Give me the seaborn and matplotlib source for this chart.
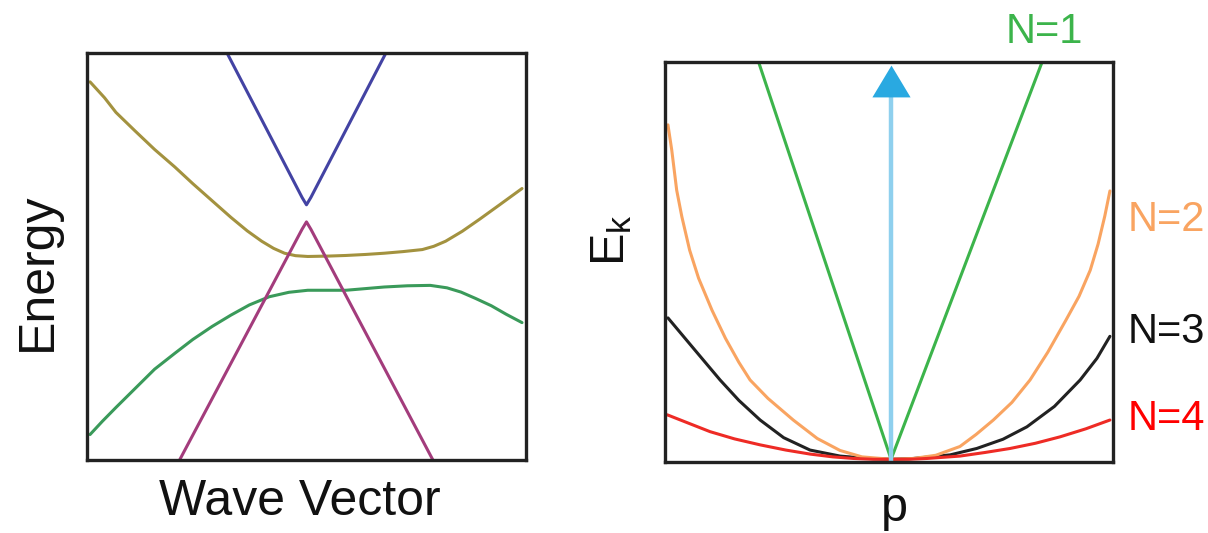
import numpy as np
import pandas as pd
import matplotlib
matplotlib.use("Agg")
import matplotlib.pyplot as plt
import seaborn as sns

# ---------------- data ----------------
# Left panel: band diagram (x and y in normalised axis units)
blue_x = [0.319, 0.49, 0.50, 0.51, 0.681]
blue_y = [1.0, 0.645, 0.627, 0.645, 1.0]

magenta_x = [0.211, 0.49, 0.50, 0.51, 0.788]
magenta_y = [0.0, 0.567, 0.585, 0.567, 0.0]

olive_x = [0.007, 0.040, 0.066, 0.110, 0.154, 0.200, 0.241, 0.285, 0.328,
           0.365, 0.398, 0.425, 0.450, 0.475, 0.503, 0.550, 0.590, 0.635,
           0.677, 0.720, 0.764, 0.790, 0.817, 0.855, 0.895, 0.940, 0.991]
olive_y = [0.929, 0.890, 0.854, 0.808, 0.763, 0.720, 0.679, 0.637, 0.596,
           0.563, 0.5375, 0.520, 0.508, 0.502, 0.500, 0.501, 0.5025, 0.505,
           0.508, 0.512, 0.517, 0.525, 0.5375, 0.562, 0.592, 0.627, 0.667]

green_x = [0.007, 0.035, 0.066, 0.110, 0.154, 0.200, 0.241, 0.285, 0.328,
           0.370, 0.415, 0.460, 0.503, 0.590, 0.677, 0.730, 0.782, 0.820,
           0.852, 0.885, 0.921, 0.955, 0.991]
green_y = [0.0625, 0.095, 0.129, 0.176, 0.223, 0.262, 0.296, 0.328, 0.356,
           0.381, 0.401, 0.412, 0.417, 0.417, 0.425, 0.428, 0.429, 0.423,
           0.4125, 0.397, 0.379, 0.358, 0.3375]

# Right panel: E_k versus p
n1_p = [-0.592, 0.0, 0.675]
n1_E = [1.0, 0.008, 1.0]

n2_p = [-0.997, -0.980, -0.958, -0.935, -0.900, -0.860, -0.800, -0.740,
        -0.680, -0.630, -0.550, -0.437, -0.330, -0.228, -0.130, 0.0,
        0.100, 0.200, 0.308, 0.380, 0.457, 0.540, 0.621, 0.700, 0.781,
        0.840, 0.890, 0.925, 0.955, 0.978]
n2_E = [0.843, 0.780, 0.680, 0.614, 0.530, 0.460, 0.380, 0.310,
        0.250, 0.206, 0.160, 0.106, 0.060, 0.030, 0.014, 0.008,
        0.010, 0.018, 0.040, 0.070, 0.106, 0.150, 0.206, 0.275, 0.355,
        0.415, 0.480, 0.545, 0.615, 0.678]

n3_p = [-0.997, -0.880, -0.764, -0.680, -0.585, -0.480, -0.362, -0.228,
        -0.100, 0.0, 0.100, 0.264, 0.383, 0.500, 0.607, 0.730, 0.845,
        0.920, 0.978]
n3_E = [0.361, 0.283, 0.206, 0.155, 0.106, 0.062, 0.031, 0.016,
        0.010, 0.008, 0.010, 0.019, 0.035, 0.058, 0.089, 0.140, 0.206,
        0.260, 0.315]

n4_p = [-1.0, -0.900, -0.809, -0.700, -0.585, -0.470, -0.362, -0.260,
        -0.168, -0.080, 0.0, 0.080, 0.160, 0.308, 0.420, 0.532, 0.645,
        0.755, 0.870, 0.978]
n4_E = [0.119, 0.097, 0.077, 0.059, 0.044, 0.031, 0.021, 0.014,
        0.010, 0.008, 0.008, 0.008, 0.010, 0.016, 0.025, 0.035, 0.048,
        0.064, 0.084, 0.106]

arrow_p = [0.0, 0.0]
arrow_E = [0.0, 0.913]
arrow_tip_E = 0.953

labels = ["N=1", "N=2", "N=3", "N=4"]

# ---------------- styling ----------------
sns.set_theme(style="white")
plt.rcParams["font.family"] = ["Liberation Sans", "DejaVu Sans"]
plt.rcParams["mathtext.fontset"] = "custom"
plt.rcParams["mathtext.rm"] = "Liberation Sans"
plt.rcParams["mathtext.it"] = "Liberation Sans"

C_BLUE = "#4343a3"
C_MAG = "#a33c7c"
C_OLIVE = "#a3923f"
C_GREEN_L = "#3a9a5a"

C_N1 = "#3cb44b"
C_N2 = "#f9a461"
C_N3 = "#222222"
C_N4 = "#ee2b25"
C_ARROW = "#8fd0ee"
C_HEAD = "#29a9e1"

fig = plt.figure(figsize=(12.08, 5.33), dpi=100)
axL = fig.add_axes([0.072, 0.137, 0.3634, 0.7636])
axR = fig.add_axes([0.5509, 0.1323, 0.3705, 0.7514])

LW = 2.2


def line(ax, x, y, color, lw=LW, z=2):
    sns.lineplot(x=x, y=y, ax=ax, color=color, lw=lw, sort=False,
                 estimator=None, zorder=z)
    ax.lines[-1].set_solid_joinstyle("round")


# left panel
line(axL, green_x, green_y, C_GREEN_L)
line(axL, olive_x, olive_y, C_OLIVE)
line(axL, magenta_x, magenta_y, C_MAG)
line(axL, blue_x, blue_y, C_BLUE)
axL.set_xlim(0, 1)
axL.set_ylim(0, 1)

# right panel
line(axR, n3_p, n3_E, C_N3, z=2)
line(axR, n2_p, n2_E, C_N2, z=2.1)
line(axR, n4_p, n4_E, C_N4, z=2.2)
line(axR, n1_p, n1_E, C_N1, z=2.3)
line(axR, arrow_p, arrow_E, C_ARROW, lw=3.2, z=2.4)
axR.plot([0.0], [arrow_tip_E], linestyle="none",
         marker=[(-1.2, -1.0), (1.2, -1.0), (0.0, 1.0)],
         markersize=27.5, color=C_HEAD, markeredgewidth=0, zorder=2.5)
axR.set_xlim(-1.008, 0.992)
axR.set_ylim(0, 1)

for ax in (axL, axR):
    ax.set_xticks([])
    ax.set_yticks([])
    ax.set_xlabel("")
    ax.set_ylabel("")
    for s in ax.spines.values():
        s.set_visible(True)
        s.set_color("#222222")
        s.set_linewidth(2.4)
        s.set_zorder(3)

W, H = 1208.0, 533.0
fig.text(300 / W, (H - 515) / H, "Wave Vector", fontsize=36, ha="center",
         va="baseline", color="#111111")
fig.text(38 / W, 0.49, "Energy", fontsize=36, rotation=90, ha="center",
         va="center", color="#111111")
fig.text(894 / W, (H - 521) / H, "p", fontsize=35, ha="center",
         va="baseline", color="#111111")
fig.text(612 / W, (H - 240) / H, r"E$_{\mathrm{k}}$", fontsize=35,
         rotation=90, ha="center", va="center", color="#111111")

fig.text(1006 / W, (H - 43) / H, labels[0], fontsize=30, color=C_N1,
         ha="left", va="baseline")
fig.text(1128 / W, (H - 231) / H, labels[1], fontsize=30, color=C_N2,
         ha="left", va="baseline")
fig.text(1128 / W, (H - 343) / H, labels[2], fontsize=30, color="#111111",
         ha="left", va="baseline")
fig.text(1128 / W, (H - 430) / H, labels[3], fontsize=30, color="#ff0000",
         ha="left", va="baseline")

fig.savefig("out.png", dpi=100, facecolor="white")
